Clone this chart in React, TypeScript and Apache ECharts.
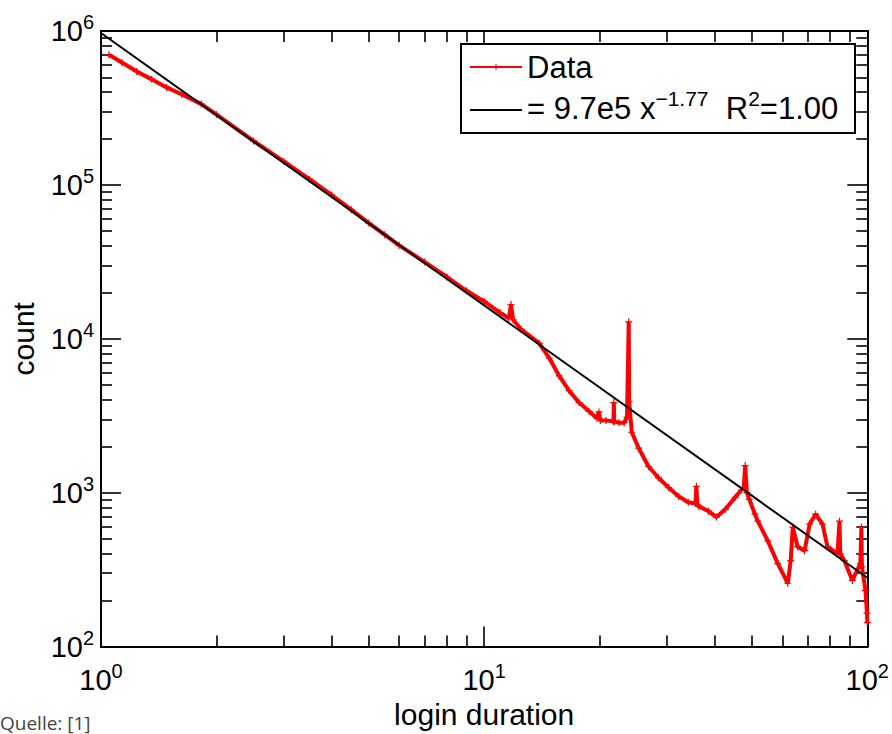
import React, { useEffect, useRef } from "react";
import * as echarts from "echarts";

// ---- data ----
const durations = [
  1.049, 1.134, 1.24, 1.356, 1.483, 1.623, 1.828, 2.0, 2.5, 3.0, 3.5, 4.0, 4.5, 5.0, 5.5, 6.0, 7.0, 8.0, 9.0,
  10.0, 11.0, 11.6, 11.75, 11.9, 12.5, 13.93, 14.79, 15.7, 16.66, 17.69, 18.78, 19.7, 19.93, 20.1, 20.8,
  21.75, 21.8, 21.85, 22.5, 23.2, 23.6, 23.84, 23.9, 24.28, 25.3, 26.86, 28.5, 30.3, 32.2, 34.1, 35.6, 35.8,
  36.0, 36.3, 38.5, 40.4, 42.6, 45.2, 46.9, 47.6, 48.0, 48.5, 49.2, 50.9, 51.8, 55.0, 58.4, 62.0, 63.1,
  63.9, 65.8, 68.6, 70.7, 73.3, 76.4, 78.7, 83.6, 84.6, 85.0, 87.1, 91.4, 95.9, 96.5, 96.8, 98.9, 99.8, 100,
];
const counts = [
  701000, 624000, 546000, 485000, 430000, 388000, 335000, 287000, 193000, 142000, 109000, 86000, 69000, 56500,
  47500, 40500, 31500, 25200, 20500, 17500, 14800, 13600, 16700, 13300, 11500, 9350, 7500, 5740, 4600, 3850,
  3380, 3050, 3350, 2950, 2950, 2900, 3850, 2900, 2850, 2850, 3100, 12900, 3900, 2470, 1950, 1480, 1250, 1080,
  946, 866, 850, 1100, 840, 817, 759, 694, 780, 933, 1040, 1080, 1500, 1000, 906, 725, 653, 486, 346, 258, 362,
  598, 446, 420, 625, 725, 625, 446, 402, 653, 400, 362, 269, 346, 598, 330, 232, 165, 143,
];
const fitDurations = [1, 100];
const fitCounts = [970000, 280];
const xMajorTicks = [1, 10, 100];
const xMinorTicks = [2, 3, 4, 5, 6, 7, 8, 9, 20, 30, 40, 50, 60, 70, 80, 90];
const yMajorTicks = [100, 1000, 10000, 100000, 1000000];
const yMinorTicks = [
  200, 300, 400, 500, 600, 700, 800, 900, 2000, 3000, 4000, 5000, 6000, 7000, 8000, 9000, 20000, 30000, 40000,
  50000, 60000, 70000, 80000, 90000, 200000, 300000, 400000, 500000, 600000, 700000, 800000, 900000,
];

const FONT = "'Liberation Sans', Arial, sans-serif";
const BLACK = "#000";

const supLabel = (v: number) => `{b|10}{s|${Math.round(Math.log10(v))}}`;
const labelRich = {
  b: { fontSize: 29, fontFamily: FONT, color: BLACK, lineHeight: 38 },
  s: { fontSize: 20, fontFamily: FONT, color: BLACK, lineHeight: 19, verticalAlign: "top" as const },
};

function makeAxis(
  kind: "x" | "y",
  position: string,
  min: number,
  max: number,
  ticks: number[],
  tickLen: number,
  withLabels: boolean
): any {
  return {
    type: "log",
    logBase: 10,
    min,
    max,
    position,
    axisLine: { show: true, onZero: false, lineStyle: { color: BLACK, width: 2 } },
    axisTick: {
      show: true,
      inside: true,
      length: tickLen,
      customValues: ticks,
      lineStyle: { color: BLACK, width: 1.6 },
    },
    splitLine: { show: false },
    minorTick: { show: false },
    axisLabel: withLabels
      ? {
          show: true,
          customValues: kind === "x" ? xMajorTicks : yMajorTicks,
          formatter: supLabel,
          rich: labelRich,
          margin: kind === "x" ? 14 : 7,
        }
      : { show: false },
  };
}

export default function App() {
  const ref = useRef<HTMLDivElement>(null);
  useEffect(() => {
    if (!ref.current) return;
    const chart = echarts.init(ref.current, undefined, { renderer: "svg" });
    const xAxes = [
      {
        ...makeAxis("x", "bottom", 1, 100, xMajorTicks, 20, true),
        name: "login duration",
        nameLocation: "middle",
        nameGap: 52,
        nameTextStyle: { fontSize: 30, fontFamily: FONT, color: BLACK },
      },
      makeAxis("x", "bottom", 1, 100, xMinorTicks, 11, false),
      makeAxis("x", "top", 1, 100, xMajorTicks, 20, false),
      makeAxis("x", "top", 1, 100, xMinorTicks, 11, false),
    ];
    const yAxes = [
      {
        ...makeAxis("y", "left", 100, 1000000, yMajorTicks, 20, true),
        name: "count",
        nameLocation: "middle",
        nameGap: 63,
        nameTextStyle: { fontSize: 30, fontFamily: FONT, color: BLACK },
      },
      makeAxis("y", "left", 100, 1000000, yMinorTicks, 11, false),
      makeAxis("y", "right", 100, 1000000, yMajorTicks, 20, false),
      makeAxis("y", "right", 100, 1000000, yMinorTicks, 11, false),
    ];
    const plus = "path://M0,5L10,5M5,0L5,10";
    chart.setOption({
      animation: false,
      backgroundColor: "#fff",
      grid: { left: 99, right: 22, top: 31, bottom: 80, containLabel: false },
      xAxis: xAxes,
      yAxis: yAxes,
      series: [
        {
          name: "Data",
          type: "line",
          xAxisIndex: 0,
          yAxisIndex: 0,
          data: durations.map((d, i) => [d, counts[i]]),
          lineStyle: { color: "#ff0000", width: 4 },
          symbol: plus,
          symbolSize: 7,
          showSymbol: true,
          itemStyle: { color: "#ff0000", borderColor: "#ff0000", borderWidth: 1.2 },
          z: 2,
        },
        {
          name: "fit",
          type: "line",
          xAxisIndex: 0,
          yAxisIndex: 0,
          data: fitDurations.map((d, i) => [d, fitCounts[i]]),
          lineStyle: { color: BLACK, width: 2 },
          symbol: "none",
          z: 3,
        },
      ],
      graphic: [
        {
          type: "rect",
          shape: { x: 461, y: 44, width: 394, height: 89 },
          style: { fill: "#fff", stroke: BLACK, lineWidth: 2 },
          z: 10,
        },
        { type: "line", shape: { x1: 470, y1: 67, x2: 522, y2: 67 }, style: { stroke: "#ff0000", lineWidth: 2 }, z: 11 },
        { type: "line", shape: { x1: 496, y1: 64, x2: 496, y2: 70 }, style: { stroke: "#ff0000", lineWidth: 1 }, z: 11 },
        { type: "line", shape: { x1: 470, y1: 110, x2: 522, y2: 110 }, style: { stroke: BLACK, lineWidth: 2 }, z: 11 },
        {
          type: "text",
          x: 527,
          y: 67,
          z: 11,
          style: { text: "Data", fontSize: 31, fontFamily: FONT, fill: BLACK, verticalAlign: "middle" },
        },
        {
          type: "text",
          x: 527,
          y: 108,
          z: 11,
          style: {
            text: "{m|= 9.7e5 x}{s|−1.77}{m|  R}{s|2}{m|=1.00}",
            verticalAlign: "middle",
            rich: {
              m: { fontSize: 31, fontFamily: FONT, fill: BLACK, lineHeight: 40 },
              s: { fontSize: 21, fontFamily: FONT, fill: BLACK, lineHeight: 21, verticalAlign: "top" },
            },
          },
        },
        {
          type: "text",
          left: 0,
          top: 713,
          style: { text: "Quelle: [1]", fontSize: 19, fontFamily: "'Open Sans', sans-serif", fill: "#444" },
        },
      ],
    });
    return () => chart.dispose();
  }, []);
  return <div ref={ref} style={{ position: "fixed", left: 0, top: 0, width: 892, height: 734 }} />;
}
